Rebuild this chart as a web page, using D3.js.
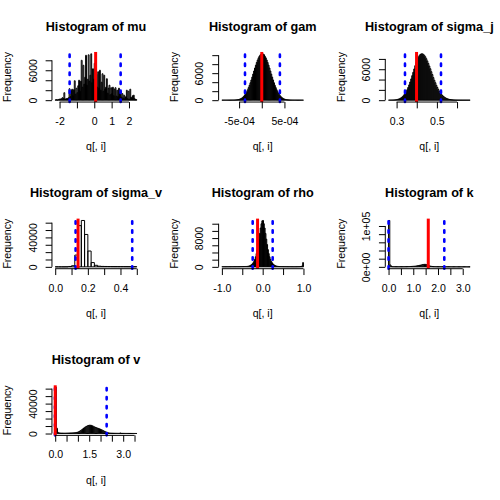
<!DOCTYPE html>
<html>
<head>
<meta charset="utf-8">
<script src="https://cdn.jsdelivr.net/npm/d3@7"></script>
<style>
  body { margin: 0; background: #fff; }
  svg { display: block; }
  text { font-family: "Liberation Sans", Arial, Helvetica, sans-serif; fill: #000; }
</style>
</head>
<body>
<svg id="chart" width="500" height="500"></svg>
<script>
// parameter names, one histogram each
const names = ['mu', 'gam', 'sigma_j', 'sigma_v', 'rho', 'k', 'v'];

// first break and bin width of every histogram
const binStart = [-2.25, -8.8e-4, 0.26, 0, -1, 0, 0];
const binWidth = [0.05, 2e-5, 0.005, 0.02, 0.02, 0.05, 0.05];

// bin counts
const muCounts = [60, 100, 0, 150, 100, 250, 200, 300, 500, 300,
  1500, 250, 200, 350, 300, 500, 2300, 700, 1900, 2200,
  900, 2100, 3900, 1200, 2400, 1500, 2900, 4000, 1800, 3800,
  8000, 2600, 7000, 3200, 4600, 9000, 3000, 4200, 9100, 3800,
  5000, 9300, 3500, 6300, 4200, 7400, 3000, 5200, 2600, 5700,
  2400, 6000, 2000, 3600, 5300, 1800, 5000, 2200, 2600, 4300,
  1400, 2400, 3000, 1100, 2500, 1300, 2600, 900, 2200, 2500,
  800, 2000, 700, 2400, 1500, 1800, 600, 1300, 400, 1000,
  300, 700, 2000, 300, 1800, 200, 2200, 600, 400, 900,
  1000, 300, 150, 100];
const gamCounts = [2, 2, 3, 4, 5, 6, 8, 10, 12, 15,
  18, 22, 28, 35, 45, 60, 80, 110, 150, 210,
  290, 390, 530, 710, 930, 1190, 1500, 1870, 2300, 2780,
  3300, 3870, 4490, 5130, 5800, 6480, 7140, 7780, 8390, 8930,
  9400, 9800, 10070, 10180, 10300, 10260, 10110, 9760, 9400, 8930,
  8390, 7780, 7140, 6480, 5800, 5130, 4490, 3870, 3300, 2780,
  2300, 1870, 1500, 1190, 930, 710, 530, 390, 290, 210,
  150, 110, 80, 60, 45, 35, 28, 22, 18, 15,
  12, 10, 8, 6, 5, 4, 3, 2, 2, 1];
const sigmaJCounts = [5, 8, 12, 20, 30, 40, 60, 90, 130, 180,
  250, 340, 460, 610, 800, 1040, 1320, 1630, 2010, 2460,
  2960, 3520, 4120, 4750, 5400, 6050, 6690, 7290, 7770, 8240,
  8600, 8850, 8980, 8990, 8890, 8700, 8420, 8040, 7610, 7130,
  6620, 6090, 5520, 4970, 4380, 3860, 3380, 2880, 2460, 2060,
  1720, 1400, 1140, 910, 730, 580, 450, 350, 260, 200,
  150, 110, 80, 60, 40, 30, 22, 16, 11, 8,
  6, 4, 3, 2, 2, 1, 1, 1, 0, 0, 1];
const sigmaVCounts = [0, 0, 0, 50, 500, 1500, 16000, 56000, 63000, 44000,
  21500, 5800, 2100, 900, 600, 500, 450, 400, 380, 350,
  320, 300, 280, 260, 240];
const rhoCounts = [30, 35, 30, 40, 35, 40, 45, 40, 45, 50,
  45, 50, 55, 50, 55, 60, 55, 60, 65, 60,
  65, 70, 70, 75, 80, 85, 90, 95, 100, 105,
  110, 140, 180, 240, 330, 450, 620, 850, 1150, 1550,
  2100, 2800, 3700, 4800, 6200, 7700, 9300, 10800, 12000, 12800,
  12900, 12000, 10800, 9300, 7700, 6200, 4800, 3700, 2800, 2100,
  1550, 1150, 850, 620, 450, 330, 240, 180, 140, 110,
  90, 85, 80, 75, 70, 65, 65, 60, 60, 55,
  55, 50, 50, 50, 45, 45, 45, 40, 40, 40,
  45, 45, 50, 55, 60, 70, 90, 120, 250, 1200];
const kCounts = [113500, 4500, 800, 400, 350, 300, 300, 250, 250, 300,
  300, 350, 400, 450, 500, 600, 700, 800, 1000, 1200,
  1400, 1700, 2100, 2600, 3200, 3900, 4600, 5300, 5900, 6200,
  5600, 4300, 3000, 2000, 1300, 900, 600, 450, 350, 300,
  280, 260, 240, 220, 200, 190, 180, 170, 160, 150,
  140, 130, 120, 110, 100, 95, 90, 85, 80, 75,
  70, 65, 60, 55, 50, 45];
const vCounts = [62000, 7000, 1500, 800, 600, 500, 500, 450, 450, 500,
  550, 600, 650, 700, 750, 850, 950, 1100, 1300, 1600,
  2100, 2900, 3900, 5000, 6200, 7400, 8500, 9500, 10200, 10800,
  11100, 11000, 10500, 9700, 8900, 8200, 7600, 7100, 6600, 6000,
  5300, 4500, 3700, 2900, 2200, 1600, 1100, 750, 550, 450,
  400, 350, 320, 300, 280, 260, 250, 700, 240, 220,
  200, 180, 170, 160, 150, 140, 130, 120, 110, 100,
  90, 80];

// red reference line and blue dotted interval per panel
const redLines = [0.079, 0, 0.399, 0.14, -0.125, 1.607, 0];
const blueLines = [[-1.42, 1.52], [-3.7e-4, 4.0e-4], [0.3416, 0.5204], [0.125, 0.472],
  [-0.245, 0.245], [0, 2.255], [-0.01, 2.27]];

// x axis ticks and labels
const xTicks = [[-2, -1, 0, 1, 2], [-5e-4, 0, 5e-4], [0.3, 0.4, 0.5, 0.6],
  [0, 0.1, 0.2, 0.3, 0.4, 0.5], [-1, -0.5, 0, 0.5, 1],
  [0, 0.5, 1, 1.5, 2, 2.5, 3], [0, 0.5, 1, 1.5, 2, 2.5, 3, 3.5]];
const xLabels = [['-2', '-1', '0', '1', '2'], ['-5e-04', '0e+00', '5e-04'],
  ['0.3', '0.4', '0.5', '0.6'], ['0.0', '0.1', '0.2', '0.3', '0.4', '0.5'],
  ['-1.0', '-0.5', '0.0', '0.5', '1.0'], ['0.0', '0.5', '1.0', '1.5', '2.0', '2.5', '3.0'],
  ['0.0', '0.5', '1.0', '1.5', '2.0', '2.5', '3.0', '3.5']];

// y axis ticks and labels
const yTicks = [[0, 2000, 4000, 6000, 8000], [0, 2000, 4000, 6000, 8000, 10000],
  [0, 2000, 4000, 6000, 8000], [0, 10000, 20000, 30000, 40000, 50000, 60000],
  [0, 2000, 4000, 6000, 8000, 10000, 12000], [0, 20000, 40000, 60000, 80000, 100000],
  [0, 10000, 20000, 30000, 40000, 50000, 60000]];
const yLabels = [['0', '2000', '4000', '6000', '8000'],
  ['0', '2000', '4000', '6000', '8000', '10000'],
  ['0', '2000', '4000', '6000', '8000'],
  ['0', '10000', '20000', '30000', '40000', '50000', '60000'],
  ['0', '2000', '4000', '6000', '8000', '10000', '12000'],
  ['0e+00', '2e+04', '4e+04', '6e+04', '8e+04', '1e+05'],
  ['0', '10000', '20000', '30000', '40000', '50000', '60000']];

const counts = [muCounts, gamCounts, sigmaJCounts, sigmaVCounts, rhoCounts, kCounts, vCounts];

// layout, base graphics style 3x3 grid
const lh = 12.672;            // one margin line
const fs = 10.56, fsMain = 12.67;
const cellW = 500 / 3, cellH = 500 / 3;
const svg = d3.select('#chart');

const probe = svg.append('text').attr('font-size', fs).text('m');
const mWidth = probe.node().getComputedTextLength();
probe.remove();

// hide labels that come too close to the last one drawn
function dropOverlaps(texts, pos) {
  let lastHi = -Infinity;
  texts.each(function (d, j) {
    const w = this.getComputedTextLength();
    const lo = pos[j] - w / 2;
    if (lo >= lastHi + mWidth) {
      lastHi = pos[j] + w / 2;
    } else {
      d3.select(this).remove();
    }
  });
}

names.forEach((name, i) => {
  const cx = (i % 3) * cellW, cy = Math.floor(i / 3) * cellH;
  const left = cx + 4.1 * lh, right = cx + cellW - 2.1 * lh;
  const top = cy + 4.1 * lh, bottom = cy + cellH - 5.1 * lh;
  const data = counts[i];
  const start = binStart[i], step = binWidth[i];
  const x0 = start, x1 = start + step * data.length;
  const pad = (x1 - x0) * 0.04;
  const x = d3.scaleLinear().domain([x0 - pad, x1 + pad]).range([left, right]);
  const ymax = d3.max(data);
  const y = d3.scaleLinear().domain([-0.04 * ymax, 1.04 * ymax]).range([bottom, top]);

  const g = svg.append('g');

  // bars
  g.selectAll('path.bar')
    .data(data)
    .join('path')
    .attr('class', 'bar')
    .attr('d', (d, j) => {
      const a = x(start + step * j), b = x(start + step * (j + 1));
      return `M${a},${y(0)}H${b}V${y(d)}H${a}Z`;
    })
    .attr('fill', 'none')
    .attr('stroke', '#000')
    .attr('stroke-width', 1);

  // interval lines
  g.selectAll('line.blue')
    .data(blueLines[i])
    .join('line')
    .attr('class', 'blue')
    .attr('x1', (d) => x(d)).attr('x2', (d) => x(d))
    .attr('y1', bottom).attr('y2', top)
    .attr('stroke', '#0000ff')
    .attr('stroke-width', 2.6)
    .attr('stroke-linecap', 'round')
    .attr('stroke-dasharray', '2.4,6.6');

  g.append('line')
    .attr('x1', x(redLines[i])).attr('x2', x(redLines[i]))
    .attr('y1', bottom).attr('y2', top)
    .attr('stroke', '#ff0000')
    .attr('stroke-width', 3);

  // x axis
  const xt = xTicks[i];
  const xa = d3.axisBottom(x)
    .tickValues(xt)
    .tickFormat((d, j) => xLabels[i][j])
    .tickSizeInner(0.5 * lh)
    .tickSizeOuter(0);
  const gx = g.append('g').attr('transform', `translate(0,${bottom})`).call(xa);
  gx.attr('font-size', null).attr('font-family', null);
  gx.select('.domain').remove();
  gx.append('line')
    .attr('x1', x(xt[0])).attr('x2', x(xt[xt.length - 1]))
    .attr('stroke', '#000');
  gx.selectAll('.tick line').attr('stroke', '#000');
  gx.selectAll('.tick text')
    .attr('y', 1.8 * lh).attr('dy', null)
    .attr('font-size', fs).attr('fill', '#000');
  dropOverlaps(gx.selectAll('.tick text'), xt.map((v) => x(v)));

  // y axis
  const yt = yTicks[i];
  const ya = d3.axisLeft(y)
    .tickValues(yt)
    .tickFormat((d, j) => yLabels[i][j])
    .tickSizeInner(0.5 * lh)
    .tickSizeOuter(0);
  const gy = g.append('g').attr('transform', `translate(${left},0)`).call(ya);
  gy.attr('font-size', null).attr('font-family', null).attr('text-anchor', null);
  gy.select('.domain').remove();
  gy.append('line')
    .attr('y1', y(yt[0])).attr('y2', y(yt[yt.length - 1]))
    .attr('stroke', '#000');
  gy.selectAll('.tick line').attr('stroke', '#000');
  gy.selectAll('.tick text')
    .attr('x', 0).attr('dy', null)
    .attr('y', -1.2 * lh)
    .attr('transform', 'rotate(-90)')
    .attr('text-anchor', 'middle')
    .attr('font-size', fs).attr('fill', '#000');
  dropOverlaps(gy.selectAll('.tick text'), yt.map((v) => -y(v)));

  // titles
  g.append('text')
    .attr('x', (left + right) / 2)
    .attr('y', top - 2.05 * lh + 0.36 * fsMain)
    .attr('text-anchor', 'middle')
    .attr('font-size', fsMain)
    .attr('font-weight', 'bold')
    .text('Histogram of ' + name);

  g.append('text')
    .attr('x', (left + right) / 2)
    .attr('y', bottom + 3.8 * lh)
    .attr('text-anchor', 'middle')
    .attr('font-size', fs)
    .text('q[, i]');

  g.append('text')
    .attr('transform', `translate(${left - 3.2 * lh},${(top + bottom) / 2}) rotate(-90)`)
    .attr('text-anchor', 'middle')
    .attr('font-size', fs)
    .text('Frequency');
});
</script>
</body>
</html>
